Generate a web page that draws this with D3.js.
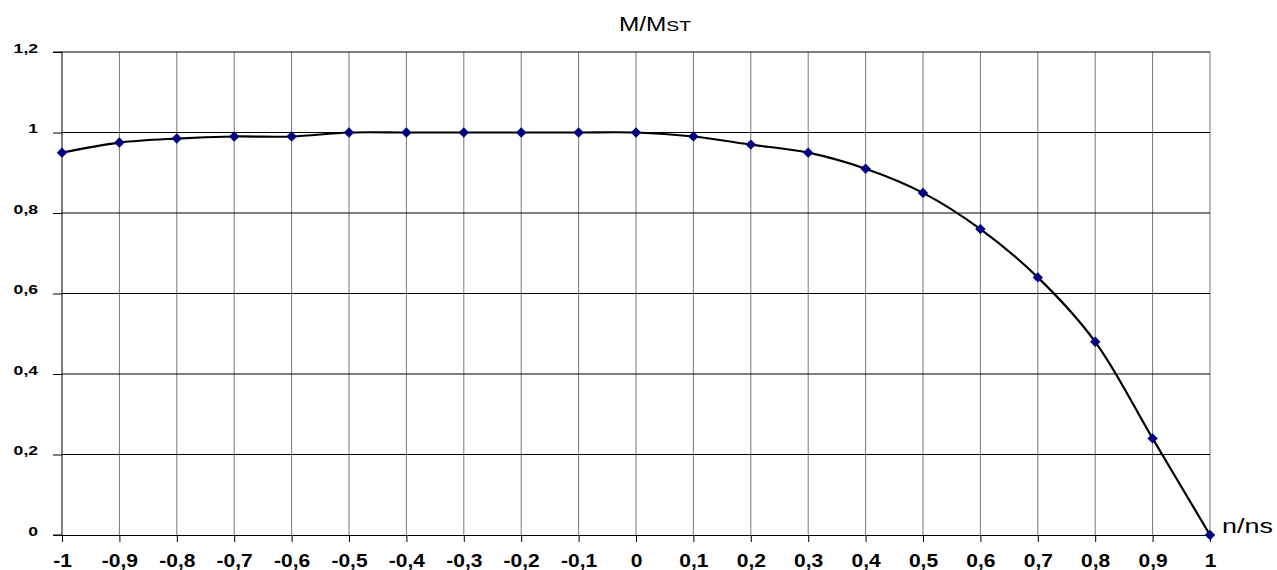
<!DOCTYPE html>
<html>
<head>
<meta charset="utf-8">
<script src="https://cdn.jsdelivr.net/npm/d3@7"></script>
<style>
  body { margin: 0; background: #fff; }
  svg { font-family: "Liberation Sans", Arial, sans-serif; }
</style>
</head>
<body>
<div id="chart"></div>
<script>
// data
const speeds = [-1, -0.9, -0.8, -0.7, -0.6, -0.5, -0.4, -0.3, -0.2, -0.1, 0, 0.1, 0.2, 0.3, 0.4, 0.5, 0.6, 0.7, 0.8, 0.9, 1];
const torque = [0.95, 0.975, 0.985, 0.99, 0.99, 1, 1, 1, 1, 1, 1, 0.99, 0.97, 0.95, 0.91, 0.85, 0.76, 0.64, 0.48, 0.24, 0];
const yTicks = [0, 0.2, 0.4, 0.6, 0.8, 1, 1.2];

const w = 1277, h = 570;
const padding = { left: 62, right: 67, top: 52, bottom: 35 };

const svg = d3.select("#chart")
  .append("svg")
  .attr("width", w)
  .attr("height", h);

const x = d3.scaleLinear().domain([-1, 1]).range([padding.left, w - padding.right]);
const y = d3.scaleLinear().domain([0, 1.2]).range([h - padding.bottom, padding.top]);
const fmt = d => String(Math.round(d * 10) / 10).replace(".", ",");

// vertical grid
svg.append("g")
  .selectAll("line")
  .data(speeds.slice(1))
  .enter()
  .append("line")
  .attr("x1", d => x(d)).attr("x2", d => x(d))
  .attr("y1", y(1.2)).attr("y2", y(0))
  .attr("stroke", "#777").attr("stroke-width", 1);

// horizontal grid
svg.append("g")
  .selectAll("line")
  .data(yTicks.slice(1))
  .enter()
  .append("line")
  .attr("x1", x(-1)).attr("x2", x(1))
  .attr("y1", d => y(d)).attr("y2", d => y(d))
  .attr("stroke", "#000").attr("stroke-width", 1);

// axes (text is a bit stretched sideways in the original, like a resized Excel picture)
const xAxis = svg.append("g")
  .attr("transform", `translate(0,${y(0)})`)
  .call(d3.axisBottom(x).tickValues(speeds).tickFormat(fmt).tickSize(7));
const yAxis = svg.append("g")
  .attr("transform", `translate(${x(-1)},0)`)
  .call(d3.axisLeft(y).tickValues(yTicks).tickFormat(fmt).tickSize(9));

[xAxis, yAxis].forEach(g => {
  g.select(".domain").attr("stroke", "#000").attr("stroke-width", 1);
  g.selectAll(".tick line").attr("stroke", "#000");
  g.selectAll("text")
    .attr("font-family", "'Liberation Sans', Arial, sans-serif")
    .attr("font-weight", "bold").attr("fill", "#000");
});
xAxis.selectAll("text")
  .attr("font-size", 17.5)
  .attr("y", 32).attr("dy", 0)
  .attr("transform", "scale(1.2,1)");
yAxis.select(".domain").attr("d", `M-9,${y(1.2)}H0V${y(0)}H-9`);
yAxis.selectAll("text")
  .attr("font-size", 13.5)
  .attr("x", -24 / 1.3).attr("y", 0).attr("dy", 0)
  .attr("transform", "scale(1.3,1)");

// the curve
const pts = speeds.map((s, i) => [s, torque[i]]);
svg.append("path")
  .datum(pts)
  .attr("fill", "none")
  .attr("stroke", "#000")
  .attr("stroke-width", 2.2)
  .attr("d", d3.line().x(d => x(d[0])).y(d => y(d[1])).curve(d3.curveCatmullRom.alpha(0.5)));

// diamond markers
svg.append("g")
  .selectAll("path")
  .data(pts)
  .enter()
  .append("path")
  .attr("transform", d => `translate(${x(d[0])},${y(d[1])})`)
  .attr("d", "M0,-5.2L5.2,0L0,5.2L-5.2,0Z")
  .attr("fill", "#000080");

// titles
const t = svg.append("text")
  .attr("transform", "translate(655,31) scale(1.25,1)")
  .attr("text-anchor", "middle")
  .attr("font-size", 19.5);
t.append("tspan").text("M/M");
t.append("tspan").attr("font-size", 15.5).text("ST");

svg.append("text")
  .attr("transform", "translate(1222,533) scale(1.38,1)")
  .attr("font-size", 19.5)
  .text("n/ns");
</script>
</body>
</html>
